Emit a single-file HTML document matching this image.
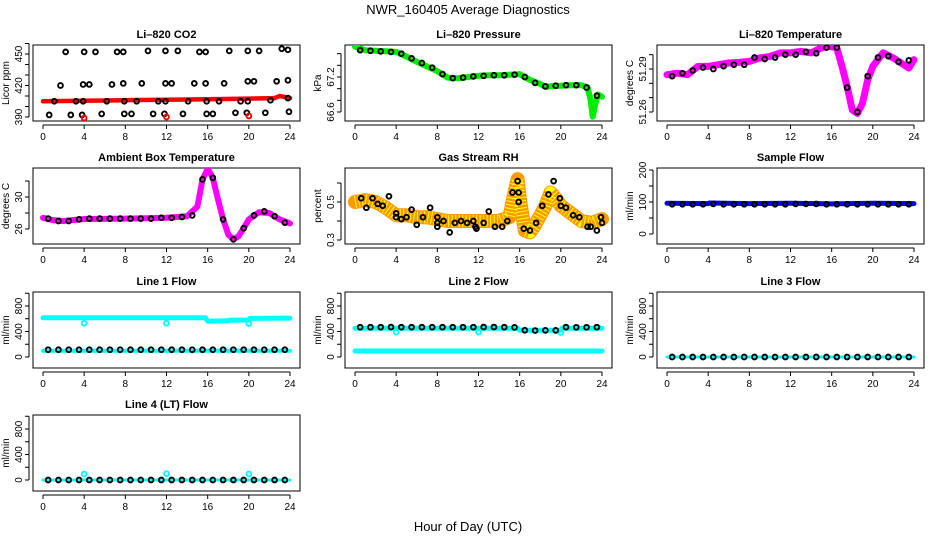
<!DOCTYPE html>
<html><head><meta charset="utf-8">
<style>
html,body{margin:0;padding:0;background:#fff;overflow:hidden;}
svg{display:block;font-family:"Liberation Sans",sans-serif;}
</style></head>
<body>
<svg id="chart" width="936" height="540" viewBox="0 0 936 540" xmlns="http://www.w3.org/2000/svg">
<rect x="0" y="0" width="936" height="540" fill="#fff"/>
<text x="468" y="14" text-anchor="middle" font-size="13">NWR_160405  Average Diagnostics</text>
<text x="468" y="531" text-anchor="middle" font-size="13">Hour of Day (UTC)</text>
</svg>
<script>
// ---- data ----
const HRS = [0.5,1.5,2.5,3.5,4.5,5.5,6.5,7.5,8.5,9.5,10.5,11.5,12.5,13.5,14.5,15.5,16.5,17.5,18.5,19.5,20.5,21.5,22.5,23.5];
const X_TICKS = [0,4,8,12,16,20,24];

const co2RedT = [0,4,8,12,16,20,22.5,23,23.5,24];
const co2RedV = [405,405.5,406,406.5,407,407.5,408,410,409,408];
const co2CircT = [2.2,4.0,5.1,7.2,7.8,10.2,11.9,13.1,15.2,15.8,18.1,19.9,21.0,23.2,23.8,
 1.7,3.9,4.5,6.7,7.8,9.6,11.9,12.5,14.7,15.8,17.6,19.9,20.5,22.7,23.8,
 1.1,3.2,3.9,6.2,7.9,9.1,11.2,11.9,14.1,15.9,17.1,19.2,19.9,22.1,23.8,
 0.6,2.7,3.8,5.7,7.9,8.6,10.7,11.8,13.6,15.9,16.5,18.7,19.8,21.6,23.9];
const co2CircV = [452,452,452,452,452,453,453,453,452,452,453,453,453,455,454,
 420,421,421,421,422,422,422,422,422,422,422,424,424,424,425,
 405,405,405,405,405,405,405,405,405,405,405,405,405,406,408,
 392,392,392,393,393,393,393,393,393,393,393,394,394,394,395];
const co2OutT = [4.0,12.0,20.0];
const co2OutV = [389,390,391];

const presT = [0,1,2,3,4,5,6,7,8,9,10,11,12,13,14,15,16,16.5,17,18,18.5,19,20,21,22,22.6,22.9,23.1,23.3,23.6,24];
const presV = [67.72,67.66,67.65,67.64,67.63,67.55,67.46,67.38,67.30,67.19,67.18,67.20,67.22,67.23,67.23,67.24,67.25,67.20,67.15,67.08,67.03,67.04,67.05,67.06,67.06,67.02,66.80,66.52,66.70,66.90,66.86];
const presCirc = [67.66,67.65,67.64,67.63,67.60,67.52,67.44,67.36,67.25,67.18,67.19,67.21,67.22,67.23,67.23,67.24,67.20,67.10,67.04,67.05,67.06,67.06,67.02,66.88];

const ltT = [0,1,2,3,4,5,6,7,8,9,10,11,12,13,14,15,15.8,16.5,17,17.5,18,18.5,19,19.5,20,21,22,23,23.5,24];
const ltV = [51.2860,51.2871,51.2860,51.2918,51.2918,51.2930,51.2942,51.2946,51.2953,51.2977,51.2988,51.3012,51.3012,51.3023,51.3012,51.3047,51.3058,51.3047,51.2918,51.2778,51.2614,51.2590,51.2661,51.2825,51.2918,51.3012,51.2977,51.2930,51.2906,51.2965];
const ltCirc = [51.285,51.287,51.289,51.291,51.290,51.292,51.293,51.293,51.298,51.297,51.298,51.300,51.300,51.302,51.301,51.305,51.305,51.277,51.260,51.285,51.298,51.299,51.295,51.296];

const ambT = [0,1,2,4,8,12,14,15,15.5,16,16.5,17,17.5,18,18.5,19,19.5,20,21,22,23,24];
const ambV = [27.4,27.1,27.0,27.25,27.3,27.4,27.6,28.8,32.2,33.5,32.4,29.7,27.2,25.3,24.7,25.1,26.1,27.2,28.1,28.0,27.2,26.7];
const ambCirc = [27.3,27.0,27.0,27.2,27.3,27.3,27.3,27.3,27.3,27.3,27.3,27.4,27.4,27.5,27.7,32.2,32.4,27.2,24.7,26.1,27.7,28.2,27.6,26.8];

const rhT = [0,1,2,3,4,5,6,7,8,9,10,11,12,13,14,15,15.5,15.8,16,16.5,17,17.5,18,18.5,19,19.5,20,21,22,23,24];
const rhV = [0.50,0.51,0.50,0.47,0.43,0.43,0.42,0.42,0.41,0.40,0.40,0.40,0.40,0.40,0.40,0.42,0.55,0.62,0.52,0.35,0.34,0.38,0.43,0.48,0.55,0.52,0.48,0.44,0.40,0.39,0.41];
const rhCircT = [0.6,1.1,1.7,2.2,2.7,3.3,4.0,4.0,4.5,5.0,5.5,6.0,6.6,7.3,8.0,8.0,8.0,8.6,9.2,9.7,10.3,10.9,11.5,11.7,11.8,12.5,13.0,13.6,14.3,14.8,15.3,15.8,15.9,15.9,16.4,17.0,17.6,18.2,18.8,19.3,19.9,20.0,20.5,21.2,21.8,22.6,22.9,23.5,23.9,24.0];
const rhCircV = [0.52,0.47,0.52,0.49,0.48,0.53,0.44,0.42,0.41,0.42,0.46,0.38,0.42,0.47,0.42,0.37,0.39,0.40,0.34,0.39,0.40,0.39,0.40,0.37,0.36,0.39,0.45,0.37,0.37,0.40,0.55,0.61,0.55,0.50,0.36,0.35,0.39,0.48,0.54,0.61,0.52,0.48,0.47,0.43,0.42,0.37,0.37,0.35,0.42,0.39];

const sfT = [0,4,4.1,8,12,16,20,24];
const sfV = [96,95,97,95,96,94,96,95];
const sfCirc = [93,93,93,93,94,93,93,93,93,93,93,93,94,94,94,93,93,93,93,93,93,93,93,93];

const l1HiT = [0,15.8,16,18,18.1,20,20.1,24];
const l1HiV = [615,615,560,570,575,580,605,610];
const l1LoT = [0,24];
const l1LoV = [99,99];
const l1Circ = [114,114,114,114,114,114,114,114,114,114,114,114,114,114,114,114,114,114,114,114,114,114,114,114];
const l1OutT = [4,12,20];
const l1OutV = [530,530,525];

const l2HiT = [0,15.8,16,20,20.1,24];
const l2HiV = [452,452,420,420,452,452];
const l2LoT = [0,24];
const l2LoV = [94,94];
const l2Circ = [468,468,468,470,468,468,468,468,468,468,468,468,470,470,468,465,420,415,418,418,468,466,466,468];
const l2OutT = [4,12,20];
const l2OutV = [390,390,385];

const l3T = [0,24];
const l3V = [0,0];
const l3Circ = [0,0,0,0,0,0,0,0,0,0,0,0,0,0,0,0,0,0,0,0,0,0,0,0];

const l4T = [0,24];
const l4V = [0,0];
const l4Circ = [0,0,0,0,0,0,0,0,0,0,0,0,0,0,0,0,0,0,0,0,0,0,0,0];
const l4OutT = [4,12,20];
const l4OutV = [95,100,95];

// ---- drawing ----
const NS = "http://www.w3.org/2000/svg";
const svg = document.getElementById('chart');
const COLS = [33,345,657], ROWS = [45,168,292,415], W = 267, H = 76;

function mk(tag, attrs, parent){
  const e = document.createElementNS(NS, tag);
  for (const k in attrs) e.setAttribute(k, attrs[k]);
  (parent||svg).appendChild(e);
  return e;
}

function panel(name, col, row, title, ylab, yRef, yTicks, yLabels){
  const L = COLS[col], T = ROWS[row];
  const g = mk('g', {});
  
  
  const xs = h => L + 10 + h * 247 / 24;
  const ys = v => yRef[1] + (v - yRef[0]) * (yRef[3] - yRef[1]) / (yRef[2] - yRef[0]);
  const box = mk('rect', {x:L, y:T, width:W, height:H, fill:'none', stroke:'#000', 'stroke-width':1}, g);
  
  
  const t = mk('text', {x:L + W/2, y:T - 7, 'text-anchor':'middle', 'font-size':11, 'font-weight':'bold'}, g);
  t.textContent = title;
  
  
  const xa = mk('g', {}, g);
  
  
  mk('line', {x1:xs(0), x2:xs(24), y1:T+H+4, y2:T+H+4, stroke:'#000'}, xa);
  X_TICKS.forEach(h => {
    mk('line', {x1:xs(h), x2:xs(h), y1:T+H+4, y2:T+H+8, stroke:'#000'}, xa);
    const lt = mk('text', {x:xs(h), y:T+H+19, 'text-anchor':'middle', 'font-size':10}, xa);
    lt.textContent = h;
    
    
  });
  const ya = mk('g', {}, g);
  
  
  const yMin = Math.min(...yTicks.map(ys)), yMax = Math.max(...yTicks.map(ys));
  mk('line', {x1:L-4, x2:L-4, y1:yMin, y2:yMax, stroke:'#000'}, ya);
  yTicks.forEach((v,i) => {
    const py = ys(v);
    mk('line', {x1:L-8, x2:L-4, y1:py, y2:py, stroke:'#000'}, ya);
    if (yLabels[i]) {
      const yl = mk('text', {x:L-11, y:py, 'text-anchor':'middle', 'font-size':10, transform:`rotate(-90 ${L-11} ${py})`}, ya);
      yl.textContent = yLabels[i];
      
      
    }
  });
  const yt = mk('text', {x:L-24, y:T+H/2, 'text-anchor':'middle', 'font-size':10, transform:`rotate(-90 ${L-24} ${T+H/2})`}, g);
  yt.textContent = ylab;
  
  
  const clip = 'clip-' + name;
  const cp = mk('clipPath', {id:clip}, g);
  mk('rect', {x:L, y:T, width:W, height:H}, cp);
  const plot = mk('g', {'clip-path':`url(#${clip})`}, g);
  
  
  return {xs, ys, plot, name};
}

function line(p, T, V, color, width, nm){
  const pts = T.map((t,i) => p.xs(t).toFixed(1) + ',' + p.ys(V[i]).toFixed(1)).join(' ');
  const pl = mk('polyline', {points:pts, fill:'none', stroke:color, 'stroke-width':width, 'stroke-linejoin':'round', 'stroke-linecap':'round'}, p.plot);
  
  
  return pl;
}
function circles(p, T, V, color, nm, r){
  T.forEach((t,i) => {
    const c = mk('circle', {cx:p.xs(t), cy:p.ys(V[i]), r:r||2.4, fill:'none', stroke:color, 'stroke-width':1.9}, p.plot);
    
    
  });
}

let p = panel('co2', 0, 0, 'Li\u2013820 CO2', 'Licor ppm', [390,117,450,54], [390,400,410,420,430,440,450,460], ['390','','','420','','','450','']);
line(p, co2RedT, co2RedV, '#ff0000', 4.5, 'co2-red-series');
circles(p, co2CircT, co2CircV, '#000', 'co2-point');
circles(p, co2OutT, co2OutV, '#ff0000', 'co2-red-point');

p = panel('pressure', 1, 0, 'Li\u2013820 Pressure', 'kPa', [66.6,112,67.2,77], [66.6,66.8,67.0,67.2,67.4,67.6], ['66.6','','','67.2','','']);
line(p, presT, presV, '#00ee00', 6, 'pressure-green-series');
circles(p, HRS, presCirc, '#000', 'pressure-point');

p = panel('li820-temp', 2, 0, 'Li\u2013820 Temperature', 'degrees C', [51.26,112,51.29,69], [51.26,51.27,51.28,51.29,51.30], ['51.26','','','51.29','']);
line(p, ltT, ltV, '#ff00ff', 7, 'li820-temp-magenta-series');
circles(p, HRS, ltCirc, '#000', 'li820-temp-point');

p = panel('ambient-temp', 0, 1, 'Ambient Box Temperature', 'degrees C', [26,229,30,197], [26,28,30,32], ['26','','30','']);
line(p, ambT, ambV, '#ff00ff', 6, 'ambient-temp-magenta-series');
circles(p, HRS, ambCirc, '#000', 'ambient-temp-point');

p = panel('gas-rh', 1, 1, 'Gas Stream RH', 'percent', [0.3,240,0.5,202], [0.3,0.4,0.5,0.6], ['0.3','','0.5','']);
line(p, rhT, rhV, '#ff9900', 14, 'rh-orange-series');
const rl = line(p, rhT, rhV, '#ffff00', 12, 'rh-yellow-stipple');
rl.setAttribute('stroke-dasharray', '1 2.5');
rl.setAttribute('stroke-linecap', 'butt');
circles(p, rhCircT, rhCircV, '#000', 'rh-point');

p = panel('sample-flow', 2, 1, 'Sample Flow', 'ml/min', [0,234,100,202], [0,50,100,150,200], ['0','','100','','200']);
line(p, sfT, sfV, '#0000ff', 5, 'sample-flow-blue-series');
circles(p, HRS, sfCirc, '#000', 'sample-flow-point');

const FT = [0,200,400,600,800,1000], FL = ['0','','400','','800',''];
p = panel('line1-flow', 0, 2, 'Line 1 Flow', 'ml/min', [0,357,800,306], FT, FL);
line(p, l1HiT, l1HiV, '#00ffff', 5, 'line1-cyan-high');
line(p, l1LoT, l1LoV, '#00ffff', 4, 'line1-cyan-low');
circles(p, l1OutT, l1OutV, '#00ffff', 'line1-cyan-point');
circles(p, HRS, l1Circ, '#000', 'line1-point');

p = panel('line2-flow', 1, 2, 'Line 2 Flow', 'ml/min', [0,357,800,306], FT, FL);
line(p, l2HiT, l2HiV, '#00ffff', 5, 'line2-cyan-high');
line(p, l2LoT, l2LoV, '#00ffff', 5, 'line2-cyan-low');
circles(p, l2OutT, l2OutV, '#00ffff', 'line2-cyan-point');
circles(p, HRS, l2Circ, '#000', 'line2-point');

p = panel('line3-flow', 2, 2, 'Line 3 Flow', 'ml/min', [0,357,800,306], FT, FL);
line(p, l3T, l3V, '#00ffff', 3, 'line3-cyan-series');
circles(p, HRS, l3Circ, '#000', 'line3-point');

p = panel('line4-flow', 0, 3, 'Line 4 (LT) Flow', 'ml/min', [0,480,800,429], FT, FL);
line(p, l4T, l4V, '#00ffff', 3, 'line4-cyan-series');
circles(p, l4OutT, l4OutV, '#00ffff', 'line4-cyan-point');
circles(p, HRS, l4Circ, '#000', 'line4-point');
</script>
</body></html>
